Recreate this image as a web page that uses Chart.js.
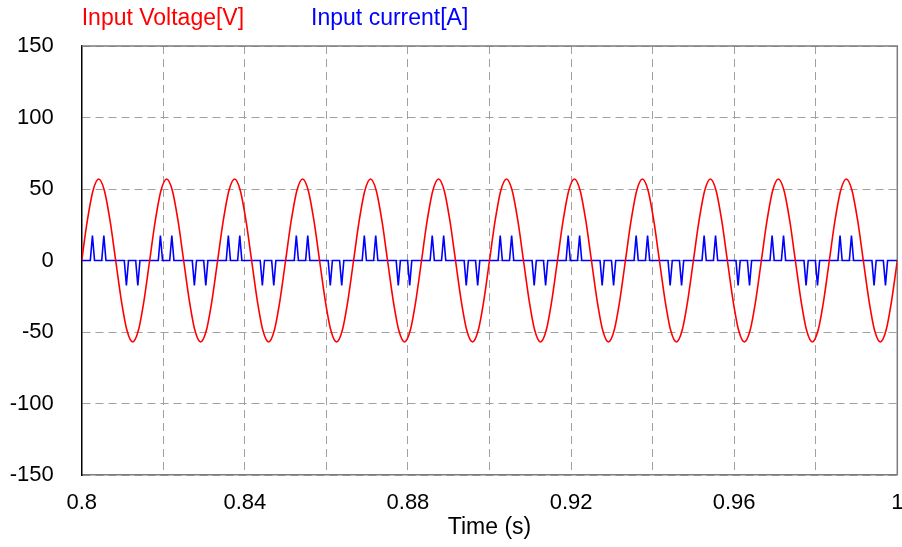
<!DOCTYPE html>
<html>
<head>
<meta charset="utf-8">
<script src="https://cdn.jsdelivr.net/npm/chart.js@4.4.1/dist/chart.umd.min.js"></script>
<style>
  html, body { margin: 0; padding: 0; background: #fff; }
</style>
</head>
<body>
<canvas id="waveform" width="902" height="547"></canvas>
<script>
// Input voltage, sampled 12 times per 60 Hz cycle from t = 0.8 s
const VOLTAGE_START = 0.8;
const VOLTAGE_STEP = 1 / 720;
const voltage = [
  0, 28, 49, 57, 49, 28, 0, -28, -49, -57, -49, -28,
  0, 28, 49, 57, 49, 28, 0, -28, -49, -57, -49, -28,
  0, 28, 49, 57, 49, 28, 0, -28, -49, -57, -49, -28,
  0, 28, 49, 57, 49, 28, 0, -28, -49, -57, -49, -28,
  0, 28, 49, 57, 49, 28, 0, -28, -49, -57, -49, -28,
  0, 28, 49, 57, 49, 28, 0, -28, -49, -57, -49, -28,
  0, 28, 49, 57, 49, 28, 0, -28, -49, -57, -49, -28,
  0, 28, 49, 57, 49, 28, 0, -28, -49, -57, -49, -28,
  0, 28, 49, 57, 49, 28, 0, -28, -49, -57, -49, -28,
  0, 28, 49, 57, 49, 28, 0, -28, -49, -57, -49, -28,
  0, 28, 49, 57, 49, 28, 0, -28, -49, -57, -49, -28,
  0, 28, 49, 57, 49, 28, 0, -28, -49, -57, -49, -28,
  0
];

// Input current: two short pulses per half cycle (peak time, peak amps)
const pulseTimes = [
  0.80263, 0.80543, 0.81096, 0.81376, 0.81930, 0.82210, 0.82763, 0.83043,
  0.83596, 0.83876, 0.84430, 0.84710, 0.85263, 0.85543, 0.86096, 0.86376,
  0.86930, 0.87210, 0.87763, 0.88043, 0.88596, 0.88876, 0.89430, 0.89710,
  0.90263, 0.90543, 0.91096, 0.91376, 0.91930, 0.92210, 0.92763, 0.93043,
  0.93596, 0.93876, 0.94430, 0.94710, 0.95263, 0.95543, 0.96096, 0.96376,
  0.96930, 0.97210, 0.97763, 0.98043, 0.98596, 0.98876, 0.99430, 0.99710
];
const pulseAmps = [
  17.5, 17.5, -17.5, -17.5, 17.5, 17.5, -17.5, -17.5,
  17.5, 17.5, -17.5, -17.5, 17.5, 17.5, -17.5, -17.5,
  17.5, 17.5, -17.5, -17.5, 17.5, 17.5, -17.5, -17.5,
  17.5, 17.5, -17.5, -17.5, 17.5, 17.5, -17.5, -17.5,
  17.5, 17.5, -17.5, -17.5, 17.5, 17.5, -17.5, -17.5,
  17.5, 17.5, -17.5, -17.5, 17.5, 17.5, -17.5, -17.5
];
const PULSE_HALF_WIDTH = 0.00052;

const T_MIN = 0.8;
const T_MAX = 1.0;
const yTicks = [-150, -100, -50, 0, 50, 100, 150];

const FONT = "'Liberation Sans', Arial, sans-serif";
const GRID_GREY = "#a0a0a0";
const FRAME_GREY = "#7c7c7c";

function voltagePoints() {
  return voltage.map((v, i) => ({ x: VOLTAGE_START + i * VOLTAGE_STEP, y: v }));
}

function currentPoints() {
  const pts = [{ x: T_MIN, y: 0 }];
  pulseTimes.forEach((t, i) => {
    pts.push({ x: t - PULSE_HALF_WIDTH, y: 0 });
    pts.push({ x: t, y: pulseAmps[i] });
    pts.push({ x: t + PULSE_HALF_WIDTH, y: 0 });
  });
  pts.push({ x: T_MAX, y: 0 });
  return pts;
}

// solid grey top/right edges plus coloured series names above the plot
const frameAndKey = {
  id: "frameAndKey",
  beforeDatasetsDraw(chart) {
    const { ctx, chartArea: a } = chart;
    ctx.save();
    ctx.strokeStyle = FRAME_GREY;
    ctx.lineWidth = 1.5;
    ctx.beginPath();
    ctx.moveTo(a.left, a.top);
    ctx.lineTo(a.right, a.top);
    ctx.lineTo(a.right, a.bottom);
    ctx.stroke();
    ctx.restore();
  },
  afterDraw(chart) {
    const { ctx, chartArea: a } = chart;
    ctx.save();
    ctx.font = "23px " + FONT;
    ctx.textBaseline = "middle";
    ctx.textAlign = "left";
    let x = a.left;
    chart.data.datasets.forEach((ds) => {
      ctx.fillStyle = ds.borderColor;
      ctx.fillText(ds.label, x, 19);
      x += ctx.measureText(ds.label).width + 67;
    });
    ctx.restore();
  },
};

new Chart(document.getElementById("waveform"), {
  type: "line",
  data: {
    datasets: [
      {
        label: "Input Voltage[V]",
        data: voltagePoints(),
        borderColor: "#ff0000",
        borderWidth: 1.6,
        pointRadius: 0,
        cubicInterpolationMode: "monotone",
      },
      {
        label: "Input current[A]",
        data: currentPoints(),
        borderColor: "#0000ff",
        borderWidth: 1.6,
        pointRadius: 0,
        tension: 0,
      },
    ],
  },
  options: {
    responsive: false,
    animation: false,
    layout: { padding: { top: 46, right: 4.7, left: 0, bottom: 0 } },
    plugins: {
      legend: { display: false },
      tooltip: { enabled: false },
    },
    scales: {
      x: {
        type: "linear",
        min: T_MIN,
        max: T_MAX,
        afterFit: (s) => {
          s.height = 72;
          s.paddingLeft = 0;
          s.paddingRight = 0;
        },
        ticks: {
          stepSize: 0.02,
          autoSkip: false,
          maxRotation: 0,
          padding: 15,
          color: "#000",
          font: { family: FONT, size: 22 },
          callback: (v) => (Math.round(v * 100) % 4 === 0 ? String(+v.toFixed(2)) : ""),
        },
        grid: { color: GRID_GREY, lineWidth: 1, drawTicks: false },
        border: { color: FRAME_GREY, width: 1.5, dash: [8, 5] },
        title: {
          display: true,
          text: "Time (s)",
          color: "#000",
          font: { family: FONT, size: 23 },
          padding: { top: 0, bottom: 6 },
        },
      },
      y: {
        min: yTicks[0],
        max: yTicks[yTicks.length - 1],
        afterFit: (s) => {
          s.width = 81.7;
          s.paddingTop = 0;
          s.paddingBottom = 0;
        },
        afterBuildTicks: (s) => { s.ticks = yTicks.map((v) => ({ value: v })); },
        ticks: {
          padding: 28,
          color: "#000",
          font: { family: FONT, size: 22 },
        },
        grid: { color: GRID_GREY, lineWidth: 1, drawTicks: false },
        border: { color: "#000", width: 1.5, dash: [8, 5] },
      },
    },
  },
  plugins: [frameAndKey],
});
</script>
</body>
</html>
